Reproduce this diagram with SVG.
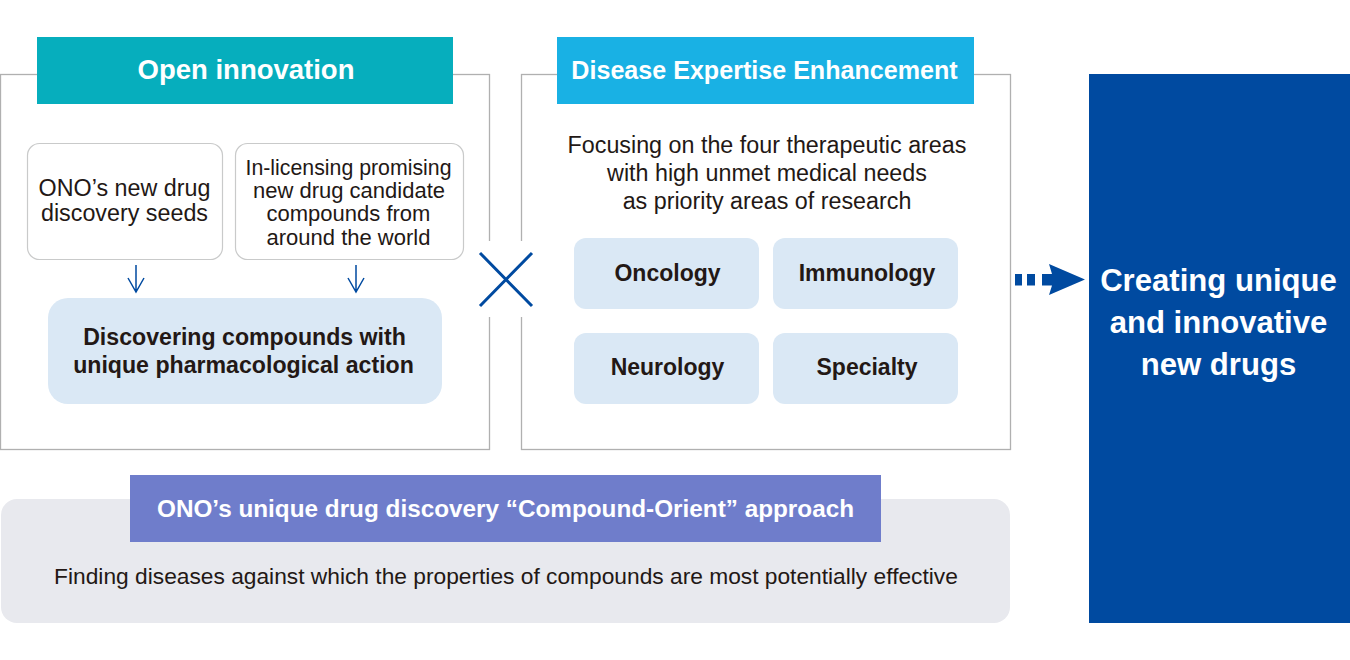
<svg xmlns="http://www.w3.org/2000/svg" width="1350" height="660" viewBox="0 0 1350 660">
<style>
text{font-family:"Liberation Sans",Arial,sans-serif;text-anchor:middle;fill:#231815}
.panel{fill:#fff;stroke:#b0b0b0;stroke-width:1.300}
.seed{fill:#fff;stroke:#c9caca;stroke-width:1.200}
.lb{fill:#dae8f5}
.h{fill:#fff;font-weight:bold}
.w{fill:#fff}
.t{font-size:23.300px}
.s{font-size:22px}
.b{font-size:23.150px;font-weight:bold}
.c{font-size:23px;font-weight:bold}
</style>
<rect width="1350" height="660" fill="#fff"/>
<g id="open-innovation">
<rect class="panel" x="0.500" y="74.500" width="489" height="375"/>
<rect x="37" y="37" width="416" height="67" fill="#06aebd"/>
<text class="h" x="246" y="79" font-size="27.500">Open innovation</text>
</g>
<g id="seeds"><rect class="seed" x="27.500" y="143.500" width="195" height="116" rx="12"/>
<text class="t" x="124.500" y="195.500">ONO’s new drug</text><text class="t" x="124.500" y="221">discovery seeds</text></g>
<g id="licensing"><rect class="seed" x="235.500" y="143.500" width="228" height="116" rx="12"/>
<text x="348.500" y="175" font-size="21.300">In-licensing promising</text><text class="s" x="349" y="198">new drug candidate</text><text class="s" x="348.500" y="221">compounds from</text><text class="s" x="348.500" y="245">around the world</text></g>
<g id="discovering"><rect class="lb" x="48" y="298" width="394" height="106" rx="20"/>
<text class="b" x="244.500" y="345">Discovering compounds with</text><text class="b" x="243.500" y="373">unique pharmacological action</text></g>
<g id="disease-expertise">
<rect class="panel" x="521.500" y="74.500" width="489" height="375"/>
<rect x="557" y="37" width="417" height="67" fill="#19b1e4"/>
<text class="h" x="764.500" y="79" font-size="25.100">Disease Expertise Enhancement</text>
<text class="t" x="767" y="152.500">Focusing on the four therapeutic areas</text>
<text class="t" x="767" y="180.500">with high unmet medical needs</text>
<text class="t" x="767" y="208.500">as priority areas of research</text>
</g>
<g id="oncology"><rect class="lb" x="574" y="238" width="185" height="71" rx="12"/><text class="c" x="667.500" y="281">Oncology</text></g>
<g id="immunology"><rect class="lb" x="773" y="238" width="185" height="71" rx="12"/><text class="c" x="867" y="281">Immunology</text></g>
<g id="neurology"><rect class="lb" x="574" y="333" width="185" height="71" rx="12"/><text class="c" x="667.500" y="375">Neurology</text></g>
<g id="specialty"><rect class="lb" x="773" y="333" width="185" height="71" rx="12"/><text class="c" x="867" y="375">Specialty</text></g>
<g id="compound-orient">
<rect x="1" y="499" width="1009" height="124" rx="16" fill="#e8e9ee"/>
<rect x="130" y="475" width="751" height="67" fill="#6f7dcb"/>
<text class="h" x="505.500" y="517" font-size="24.300">ONO’s unique drug discovery “Compound-Orient” approach</text>
<text x="506" y="584" font-size="22.750">Finding diseases against which the properties of compounds are most potentially effective</text>
</g>
<g id="result"><rect x="1089" y="74" width="261" height="549" fill="#004aa0"/>
<g font-size="31.100" font-weight="bold"><text class="w" x="1218.500" y="291">Creating unique</text><text class="w" x="1218.500" y="333">and innovative</text><text class="w" x="1218.500" y="375">new drugs</text></g></g>
<g id="connectors">
<path d="M136 265V292M128 278L136 292L144 278M356 265V292M348 278L356 292L364 278" fill="none" stroke="#004aa0" stroke-width="1.500"/>
<rect x="476" y="241" width="60" height="76" fill="#fff"/>
<path d="M480 253L532 306M532 253L480 306" stroke="#004aa0" stroke-width="3" fill="none"/>
<path d="M1015 274h7v11.500h-7zM1027 274h8v11.500h-8zM1042 274H1052L1049 264L1085 279.500L1049 295L1052 285.500H1042Z" fill="#004aa0"/>
</g>
</svg>
